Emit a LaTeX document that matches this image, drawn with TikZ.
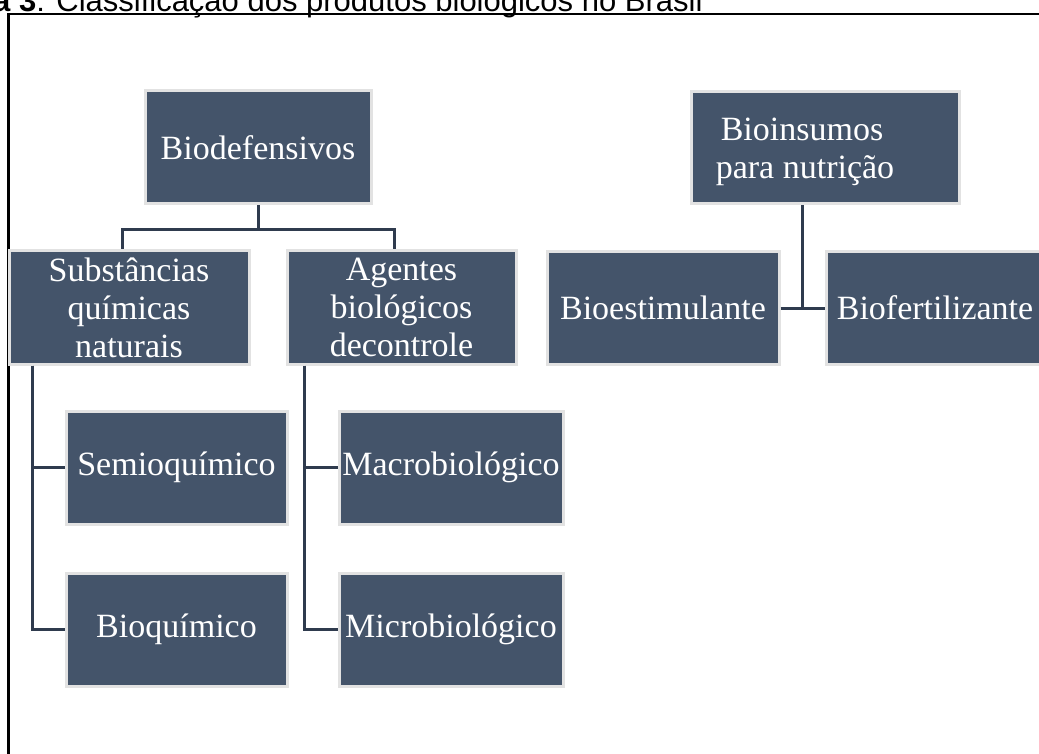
\documentclass[tikz,border=0pt]{standalone}
\usepackage{fontspec}
\setmainfont{Liberation Serif}
\newfontfamily\titlefont{Liberation Sans}
\definecolor{boxfill}{HTML}{44546A}
\definecolor{boxedge}{HTML}{E2E2E2}
\definecolor{linkcol}{HTML}{2F3B4E}
\tikzset{
  orgbox/.style={rectangle, fill=boxfill, draw=boxedge, line width=3pt, text=white,
    font=\fontsize{34}{38}\selectfont, align=center, inner sep=0pt,
    minimum height=113pt},
  link/.style={draw=linkcol, line width=3pt},
  frame/.style={draw=black, line width=2.4pt},
  boxtext/.style={text=white, font=\fontsize{34}{38}\selectfont, inner sep=0pt}
}
\begin{document}
\begin{tikzpicture}[x=1pt,y=-1pt]
\useasboundingbox (0,0) rectangle (1039,754);
\fill[white] (0,0) rectangle (1039,754);
% title (cut at top and left as in the reference)
\node[anchor=base west, inner sep=0pt, font=\titlefont\fontsize{31}{36}\selectfont] (title) at (-7,12)
  {\textbf{a 3}: Classificação dos produtos biológicos no Brasil};
% frame
\coordinate (fb) at (8.5,760);
\coordinate (ftl) at (8.5,14);
\coordinate (fr) at (1045,14);
\draw[frame] (fb) -- (ftl) -- (fr);
% boxes
\node[orgbox, minimum width=226pt] (bio) at (258,147.5) {Biodefensivos};
\node[orgbox, minimum width=240pt] (subs) at (129,307.5) {Substâncias\\químicas\\naturais};
\node[orgbox, minimum width=229pt] (agen) at (401.5,307.5) {Agentes\\biológicos\\decontrole};
\node[orgbox, minimum width=221pt] (semio) at (176.5,467.5) {Semioquímico};
\node[orgbox, minimum width=221pt] (bioq) at (176.5,629.5) {Bioquímico};
\node[orgbox, minimum width=224pt] (macro) at (451,467.5) {Macrobiológico};
\node[orgbox, minimum width=224pt] (micro) at (451,629.5) {Microbiológico};
\node[orgbox, minimum width=268pt, minimum height=112pt] (ins) at (825,148) {};
\node[boxtext, align=left] (instxt) at (805,152) {\hspace*{5pt}Bioinsumos\\para nutrição};
\node[orgbox, minimum width=232pt, minimum height=112pt] (estim) at (663,308) {Bioestimulante};
\node[orgbox, minimum width=218pt, minimum height=112pt] (fert) at (935,308) {Biofertilizante};
% connectors
\draw[link] (bio.south) -- ++(0,24) -| ([xshift=-7pt]subs.north);
\draw[link] (bio.south) -- ++(0,24) -| ([xshift=-7.5pt]agen.north);
\draw[link] ([xshift=-97pt]subs.south) |- (semio.west);
\draw[link] ([xshift=-97pt]subs.south) |- (bioq.west);
\draw[link] ([xshift=-97.5pt]agen.south) |- (macro.west);
\draw[link] ([xshift=-97.5pt]agen.south) |- (micro.west);
\draw[link] ([xshift=-23pt]ins.south) -- ([xshift=-23pt]ins.south |- estim.east);
\draw[link] (estim.east) -- (fert.west);
\end{tikzpicture}
\end{document}
